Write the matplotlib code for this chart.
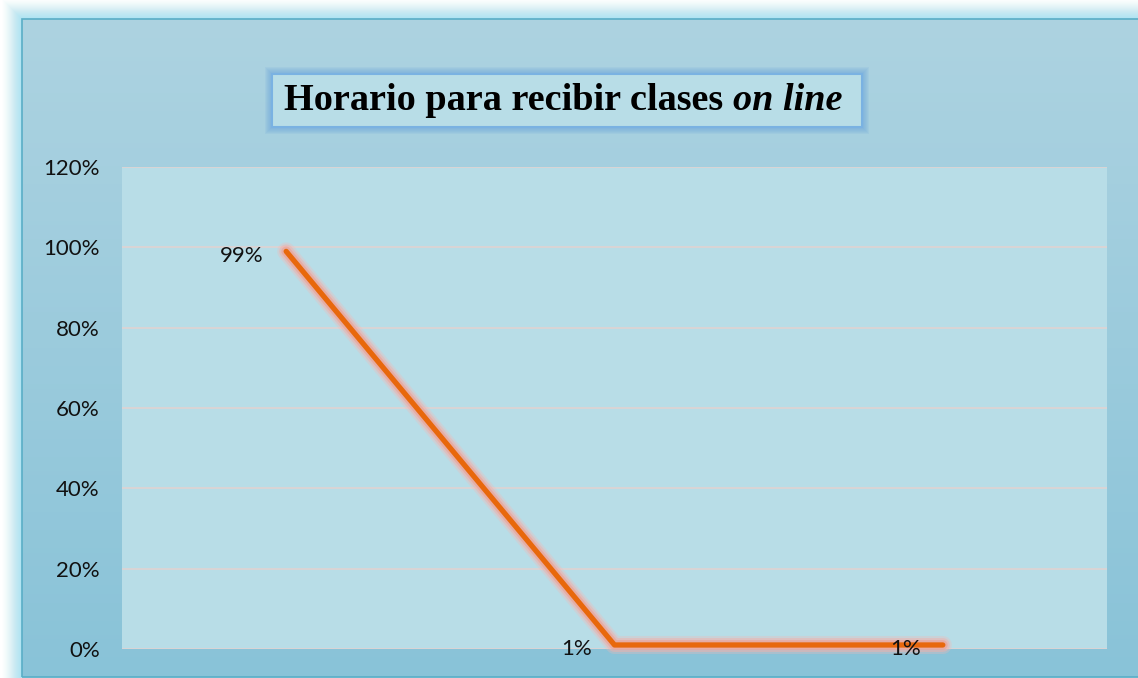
import matplotlib
matplotlib.use("Agg")
import matplotlib.pyplot as plt
import matplotlib.patheffects as pe
from matplotlib.patches import Rectangle
from matplotlib.ticker import FuncFormatter
import numpy as np

# ---- data ----
categories = ["", "", ""]
values = [0.99, 0.01, 0.01]
label_texts = ["99%", "1%", "1%"]
yticks = [0.0, 0.2, 0.4, 0.6, 0.8, 1.0, 1.2]
title_bold = "Horario para recibir clases "
title_italic = "on line"

W, H = 1138, 678
fig = plt.figure(figsize=(W / 100, H / 100), dpi=100)
fig.patch.set_facecolor("white")

def fx(px):
    return px / W

def fy(py):
    return 1 - py / H

# outer glow around chart area
cx0, cy0, cx1, cy1 = 22, 19, 1160, 677
for i in range(20, 0, -1):
    a = 0.09 * (1 - i / 21) + 0.01
    r = Rectangle((fx(cx0 - i), fy(cy1 + i)), fx(cx1 - cx0 + 2 * i), (cy1 - cy0 + 2 * i) / H,
                  transform=fig.transFigure, facecolor="#8fdcf2", edgecolor="none",
                  alpha=a, zorder=0)
    fig.add_artist(r)

# chart area gradient
bg = fig.add_axes([fx(cx0), fy(cy1), fx(cx1 - cx0), (cy1 - cy0) / H], zorder=1)
top = np.array([0xad, 0xd3, 0xe1]) / 255
bot = np.array([0x89, 0xc3, 0xd8]) / 255
t = np.linspace(0, 1, 256)[:, None]
grad = top[None, :] * (1 - t) + bot[None, :] * t
bg.imshow(grad[:, None, :], aspect="auto", extent=[0, 1, 0, 1], interpolation="bilinear")
bg.set_xlim(0, 1)
bg.set_ylim(0, 1)
bg.axis("off")
border = Rectangle((fx(cx0), fy(cy1)), fx(cx1 - cx0), (cy1 - cy0) / H,
                   transform=fig.transFigure, facecolor="none", edgecolor="#5aaec6",
                   linewidth=1.2, zorder=2)
fig.add_artist(border)

# plot area
px0, py0, px1, py1 = 122, 167, 1107, 649
ax = fig.add_axes([fx(px0), fy(py1), fx(px1 - px0), (py1 - py0) / H], zorder=3)
ax.set_facecolor("#b8dde7")
x = np.arange(len(values))
ax.set_xlim(-0.5, len(values) - 0.5)
ax.set_ylim(0, 1.2)
ax.set_yticks(yticks)
ax.yaxis.set_major_formatter(FuncFormatter(lambda v, p: f"{v*100:.0f}%"))
ax.set_xticks(x)
ax.set_xticklabels(categories)
ax.tick_params(axis="both", length=0)
ax.tick_params(axis="y", pad=16, labelsize=16, labelcolor="#111111")
for lab in ax.get_yticklabels():
    lab.set_fontfamily("Lato")
for s in ax.spines.values():
    s.set_visible(False)
ax.grid(axis="y", color="#dcd4d4", linewidth=1.3)
ax.set_axisbelow(True)

glow = [pe.Stroke(linewidth=13, foreground="#f4b8b4", alpha=0.3),
        pe.Stroke(linewidth=10, foreground="#f0b0aa", alpha=0.5),
        pe.Stroke(linewidth=7, foreground="#eba498", alpha=0.7),
        pe.Normal()]
ax.plot(x, values, color="#e8680c", linewidth=3.8, solid_capstyle="round",
        solid_joinstyle="round", path_effects=glow, clip_on=False, zorder=5)

for xi, v, lt in zip(x, values, label_texts):
    ax.annotate(lt, (xi, v), xytext=(-16, -3), textcoords="offset points",
                ha="right", va="center", fontsize=16, family="Lato",
                color="#111111", zorder=6)

# title box
bx0, by0, bx1, by1 = 272, 74, 862, 127
for i in range(7, 0, -1):
    g = Rectangle((fx(bx0 - i), fy(by1 + i)), fx(bx1 - bx0 + 2 * i), (by1 - by0 + 2 * i) / H,
                  transform=fig.transFigure, facecolor="#6fa8dc", edgecolor="none",
                  alpha=0.13, zorder=4)
    fig.add_artist(g)
tb = Rectangle((fx(bx0), fy(by1)), fx(bx1 - bx0), (by1 - by0) / H,
               transform=fig.transFigure, facecolor="#b8dde7", edgecolor="#7ab2e2",
               linewidth=1.5, zorder=5)
fig.add_artist(tb)

t1 = fig.text(fx(284), fy(101), title_bold, fontsize=27.5, fontweight="bold",
              family="Liberation Serif", ha="left", va="center", zorder=6, color="black")
fig.canvas.draw()
ext = t1.get_window_extent()
t2 = fig.text(ext.x1 / W, fy(101), title_italic, fontsize=27.5, fontweight="bold",
              fontstyle="italic", family="Liberation Serif", ha="left", va="center",
              zorder=6, color="black")

fig.savefig("out.png", dpi=100, facecolor="white")
